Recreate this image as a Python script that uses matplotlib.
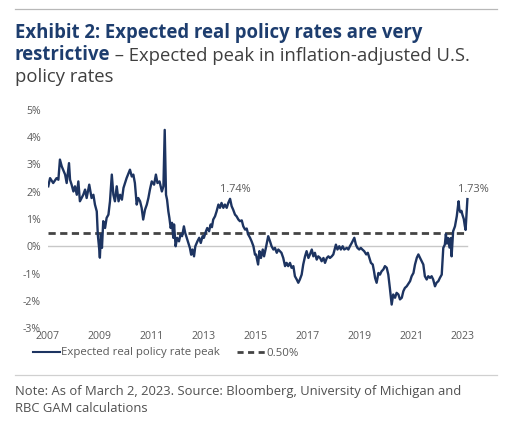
import matplotlib
matplotlib.use("Agg")
import matplotlib.pyplot as plt
from matplotlib.lines import Line2D

plt.rcParams['font.family'] = ['Open Sans', 'DejaVu Sans']

# ---- data (decimal years, percent) ----
years = [
    2007.01, 2007.08, 2007.20, 2007.33, 2007.40, 2007.46, 2007.53, 2007.66, 2007.72, 2007.81,
    2007.85, 2007.91, 2007.98, 2008.04, 2008.11, 2008.17, 2008.23, 2008.36, 2008.43, 2008.49,
    2008.59, 2008.68, 2008.75, 2008.81, 2008.88, 2008.92, 2008.97, 2009.00, 2009.04, 2009.08,
    2009.13, 2009.20, 2009.26, 2009.33, 2009.39, 2009.46, 2009.52, 2009.58, 2009.65, 2009.72,
    2009.78, 2009.85, 2009.91, 2010.03, 2010.16, 2010.23, 2010.29, 2010.35, 2010.42, 2010.48,
    2010.55, 2010.61, 2010.67, 2010.74, 2010.81, 2010.87, 2010.93, 2011.00, 2011.09, 2011.16,
    2011.22, 2011.30, 2011.39, 2011.45, 2011.50, 2011.55, 2011.59, 2011.64, 2011.68, 2011.73,
    2011.78, 2011.83, 2011.86, 2011.92, 2011.98, 2012.05, 2012.11, 2012.17, 2012.24, 2012.29,
    2012.35, 2012.41, 2012.47, 2012.52, 2012.57, 2012.63, 2012.68, 2012.76, 2012.83, 2012.89,
    2012.96, 2013.01, 2013.09, 2013.14, 2013.21, 2013.27, 2013.32, 2013.37, 2013.44, 2013.50,
    2013.57, 2013.63, 2013.69, 2013.76, 2013.82, 2013.89, 2013.95, 2014.02, 2014.08, 2014.14,
    2014.21, 2014.27, 2014.34, 2014.40, 2014.47, 2014.53, 2014.60, 2014.66, 2014.72, 2014.79,
    2014.85, 2014.92, 2014.98, 2015.02, 2015.10, 2015.15, 2015.21, 2015.28, 2015.33, 2015.40,
    2015.49, 2015.56, 2015.62, 2015.69, 2015.75, 2015.82, 2015.88, 2015.94, 2016.00, 2016.07,
    2016.14, 2016.20, 2016.26, 2016.33, 2016.39, 2016.46, 2016.52, 2016.59, 2016.65, 2016.71,
    2016.78, 2016.84, 2016.91, 2016.97, 2017.04, 2017.10, 2017.17, 2017.23, 2017.29, 2017.36,
    2017.42, 2017.49, 2017.55, 2017.62, 2017.68, 2017.75, 2017.81, 2017.87, 2017.94, 2018.00,
    2018.10, 2018.16, 2018.23, 2018.29, 2018.36, 2018.42, 2018.52, 2018.58, 2018.64, 2018.71,
    2018.81, 2018.87, 2018.93, 2019.00, 2019.06, 2019.12, 2019.19, 2019.27, 2019.33, 2019.39,
    2019.45, 2019.52, 2019.57, 2019.61, 2019.67, 2019.74, 2019.80, 2019.86, 2019.93, 2019.99,
    2020.06, 2020.12, 2020.18, 2020.25, 2020.31, 2020.38, 2020.44, 2020.51, 2020.57, 2020.64,
    2020.70, 2020.76, 2020.83, 2020.96, 2021.02, 2021.09, 2021.15, 2021.22, 2021.28, 2021.34,
    2021.41, 2021.47, 2021.53, 2021.60, 2021.66, 2021.73, 2021.79, 2021.85, 2021.92, 2021.98,
    2022.05, 2022.11, 2022.18, 2022.24, 2022.30, 2022.34, 2022.38, 2022.43, 2022.48, 2022.53,
    2022.56, 2022.62, 2022.69, 2022.76, 2022.80, 2022.83, 2022.86, 2022.90, 2022.94, 2022.98,
    2023.03, 2023.07, 2023.10, 2023.13, 2023.17,
]
rate = [
    2.20, 2.50, 2.32, 2.50, 2.44, 3.18, 2.93, 2.63, 2.32, 3.05,
    2.44, 2.26, 2.01, 2.20, 1.89, 2.38, 1.65, 1.89, 2.08, 1.77,
    2.26, 1.77, 1.89, 1.53, 1.28, 0.43, -0.06, -0.42, 0.43, -0.06,
    0.92, 0.67, 1.04, 1.16, 1.65, 2.63, 1.89, 1.65, 2.20, 1.65,
    1.89, 1.71, 2.14, 2.50, 2.81, 2.56, 2.63, 2.32, 1.53, 1.77,
    1.65, 1.41, 0.98, 1.34, 1.53, 1.77, 2.08, 2.38, 2.26, 2.63,
    2.32, 2.38, 2.01, 2.20, 4.27, 1.89, 1.71, 1.28, 1.04, 0.67,
    0.86, 0.31, 0.80, 0.00, 0.31, 0.18, 0.43, 0.37, 0.73, 0.49,
    0.31, 0.12, -0.06, -0.31, -0.12, -0.37, 0.00, 0.18, 0.31, 0.12,
    0.37, 0.31, 0.55, 0.67, 0.55, 0.80, 0.70, 0.98, 1.10, 1.28,
    1.53, 1.41, 1.59, 1.41, 1.53, 1.41, 1.59, 1.74, 1.47, 1.34,
    1.16, 1.10, 0.98, 0.92, 0.95, 0.73, 0.61, 0.65, 0.43, 0.31,
    0.18, 0.00, -0.31, -0.30, -0.67, -0.18, -0.43, -0.12, -0.37, -0.06,
    0.37, 0.18, 0.00, -0.12, -0.06, -0.24, -0.12, -0.18, -0.24, -0.43,
    -0.73, -0.61, -0.73, -0.61, -0.79, -0.73, -1.10, -1.22, -1.34, -1.22,
    -1.04, -0.67, -0.37, -0.18, -0.43, -0.30, -0.12, -0.37, -0.24, -0.49,
    -0.37, -0.43, -0.55, -0.43, -0.61, -0.43, -0.37, -0.43, -0.37, -0.30,
    0.06, -0.12, 0.00, -0.12, 0.00, -0.12, -0.06, -0.12, 0.00, 0.12,
    0.31, 0.06, -0.06, -0.12, -0.06, -0.12, -0.18, -0.30, -0.24, -0.43,
    -0.61, -0.67, -0.92, -1.16, -1.34, -0.98, -1.04, -0.92, -0.85, -0.73,
    -0.79, -1.04, -1.53, -2.14, -1.77, -1.89, -1.71, -1.77, -1.95, -1.89,
    -1.65, -1.53, -1.47, -1.28, -1.10, -0.98, -0.67, -0.42, -0.30, -0.42,
    -0.55, -0.67, -1.10, -1.22, -1.10, -1.16, -1.10, -1.22, -1.47, -1.34,
    -1.28, -1.16, -1.04, -0.06, 0.06, 0.45, 0.10, 0.30, -0.05, 0.30,
    -0.37, 0.55, 0.73, 1.10, 1.40, 1.65, 1.35, 1.25, 1.30, 1.15,
    1.00, 0.75, 0.60, 1.10, 1.73,
]
reference_level = 0.50
peak_labels = [(2014.02, 1.74, "1.74%"), (2023.17, 1.73, "1.73%")]
x_ticks = list(range(2007, 2024, 2))
y_ticks = [-3, -2, -1, 0, 1, 2, 3, 4, 5]

navy = "#1d3461"
gray_txt = "#5a5a5a"

fig = plt.figure(figsize=(5.06, 4.26), dpi=100)
ax = fig.add_axes([48/506, 1-328/426, 422/506, 218/426])

start, end = years[0] - 0.01, years[-1]
ax.plot([start, end], [0, 0], color="#c8c8c8", lw=1.0, zorder=1)
ax.plot([start, end], [reference_level, reference_level], color="#444444", lw=2.0,
        dashes=[2.6, 1.6], zorder=2)
ax.plot(years, rate, color=navy, lw=1.7, zorder=3)

for xv, yv, lab in peak_labels:
    ax.annotate(lab, (xv, yv), xytext=(4, 3), textcoords="offset points",
                ha="center", va="bottom", fontsize=7.9, color=gray_txt)

ax.set_xlim(2007, 2023.27)
ax.set_ylim(-3, 5)
ax.set_xticks(x_ticks)
ax.set_xticklabels([str(t) for t in x_ticks])
ax.set_yticks(y_ticks)
ax.set_yticklabels([f"{t}%" for t in y_ticks])
ax.tick_params(length=0, labelsize=7.6, colors=gray_txt)
ax.tick_params(axis="x", pad=2)
ax.tick_params(axis="y", pad=5)
for s in ax.spines.values():
    s.set_visible(False)

# legend
handles = [Line2D([], [], color=navy, lw=1.5),
           Line2D([], [], color="#444444", lw=2.0, dashes=[2.2, 1.6])]
leg = fig.legend(handles, ["Expected real policy rate peak", "0.50%"], ncol=2,
                 loc="center left", bbox_to_anchor=(33/506, 1-353/426),
                 frameon=False, fontsize=8.2, handlelength=2.4, handletextpad=0.1,
                 columnspacing=1.5, borderpad=0, borderaxespad=0)
for t in leg.get_texts():
    t.set_color(gray_txt)

# rules
fig.add_artist(Line2D([15/506, 497/506], [1-9/426, 1-9/426], color="#b8b8b8", lw=0.9))
fig.add_artist(Line2D([15/506, 497/506], [1-375/426, 1-375/426], color="#d0d0d0", lw=0.9))

# title
title_blue = "#1d3d6e"
tsize = 13.35
fig.text(15/506, 1-38.3/426, "Exhibit 2: Expected real policy rates are very",
         fontsize=tsize, fontweight="bold", color=title_blue, va="baseline")
t2 = fig.text(15/506, 1-59.8/426, "restrictive", fontsize=tsize, fontweight="bold",
              color=title_blue, va="baseline")
ax.annotate(" \u2013 Expected peak in inflation-adjusted U.S.", xy=(1, 0), xycoords=t2,
            xytext=(0, 0), textcoords="offset points", fontsize=tsize,
            color="#3f3f3f", va="bottom", ha="left", annotation_clip=False)
fig.text(15/506, 1-81.5/426, "policy rates", fontsize=tsize, color="#3f3f3f", va="baseline")

# note
fig.text(15/506, 1-395.5/426,
         "Note: As of March 2, 2023. Source: Bloomberg, University of Michigan and",
         fontsize=9.4, color="#505050", va="baseline")
fig.text(15/506, 1-412.5/426, "RBC GAM calculations", fontsize=9.4, color="#505050",
         va="baseline")

fig.savefig("out.png", dpi=100)
